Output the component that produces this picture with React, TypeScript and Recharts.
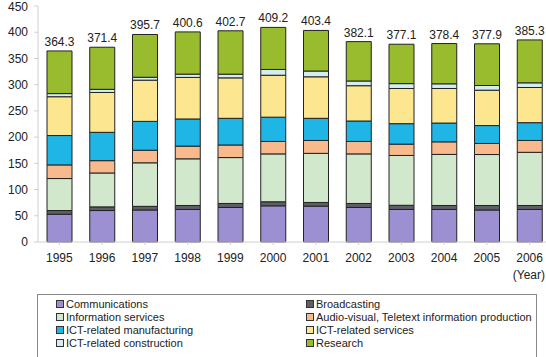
import React from 'react';
import { BarChart, Bar, XAxis, YAxis, LabelList } from 'recharts';

const years = ['1995', '1996', '1997', '1998', '1999', '2000', '2001', '2002', '2003', '2004', '2005', '2006'];
const communications = [53, 60, 61, 62, 65.8, 69, 68.4, 65.8, 62, 62, 61, 62];
const broadcasting = [7, 7, 7, 7.6, 7.7, 7.7, 7, 7.7, 8, 7.6, 8.6, 7.6];
const informationServices = [61, 64.6, 83, 89, 87.5, 91.3, 93.6, 94.5, 95, 97.4, 97.2, 101.4];
const audioVisual = [26, 23.5, 24, 24.2, 24, 23.7, 24.6, 23.7, 21.6, 24, 21.1, 22.6];
const ictManufacturing = [56, 54, 55, 51.8, 50.8, 46.3, 42.2, 39, 39, 35.8, 34.1, 33.9];
const ictServices = [74, 76, 78.6, 79.2, 77.2, 80, 79.2, 67.3, 67.1, 65.9, 67.5, 67.1];
const ictConstruction = [6, 6, 5.5, 6.3, 7, 11, 11, 9, 9.3, 8.9, 8.9, 8.9];
const research = [81.3, 80.3, 81.6, 80.5, 82.7, 80.2, 77.4, 75.1, 75.1, 76.8, 79.5, 81.8];
const totals = ['364.3', '371.4', '395.7', '400.6', '402.7', '409.2', '403.4', '382.1', '377.1', '378.4', '377.9', '385.3'];
const yTicks = [0, 50, 100, 150, 200, 250, 300, 350, 400, 450];

const series = [
  { key: 'comm', name: 'Communications', color: '#9d90d2' },
  { key: 'broad', name: 'Broadcasting', color: '#5e5e66' },
  { key: 'info', name: 'Information services', color: '#d2e8cd' },
  { key: 'av', name: 'Audio-visual, Teletext information production', color: '#f8b98c' },
  { key: 'manuf', name: 'ICT-related manufacturing', color: '#1fb6e6' },
  { key: 'serv', name: 'ICT-related services', color: '#fde690' },
  { key: 'constr', name: 'ICT-related construction', color: '#d3edf2' },
  { key: 'research', name: 'Research', color: '#99bb2e' },
];

const data = years.map((year, i) => ({
  year,
  comm: communications[i],
  broad: broadcasting[i],
  info: informationServices[i],
  av: audioVisual[i],
  manuf: ictManufacturing[i],
  serv: ictServices[i],
  constr: ictConstruction[i],
  research: research[i],
  total: totals[i],
}));

// legend order as in the box: left column then right column, row by row
const legendLeft = ['comm', 'info', 'manuf', 'constr'];
const legendRight = ['broad', 'av', 'serv', 'research'];

const font = '"Liberation Sans", Arial, sans-serif';

function LegendItem({ k }: { k: string }) {
  const s = series.find((x) => x.key === k)!;
  return (
    <div style={{ height: 13, display: 'flex', alignItems: 'center', whiteSpace: 'nowrap' }}>
      <span
        style={{
          display: 'inline-block',
          width: 6,
          height: 6,
          background: s.color,
          border: '1px solid #333',
          marginRight: 2,
        }}
      />
      <span>{s.name}</span>
    </div>
  );
}

export default function App() {
  return (
    <div
      style={{
        position: 'absolute',
        left: 0,
        top: 0,
        width: 546,
        height: 357,
        overflow: 'hidden',
        background: '#fff',
        fontFamily: font,
      }}
    >
      <BarChart
        width={551}
        height={272}
        data={data}
        margin={{ top: 6, right: 0, left: 0, bottom: 0 }}
        barSize={25}
        style={{ fontFamily: font }}
      >
        <XAxis
          dataKey="year"
          height={30}
          axisLine={{ stroke: '#d0d0d0' }}
          tickLine={{ stroke: '#d0d0d0' }}
          tickSize={3}
          tickMargin={8}
          tick={{ fill: '#222', fontSize: 12, fontFamily: font }}
          interval={0}
        />
        <YAxis
          width={38}
          domain={[0, 450]}
          ticks={yTicks}
          axisLine={{ stroke: '#d0d0d0' }}
          tickLine={{ stroke: '#d0d0d0' }}
          tickSize={4}
          tickMargin={6}
          tick={{ fill: '#222', fontSize: 12, fontFamily: font }}
        />
        {series.map((s) => (
          <Bar
            key={s.key}
            dataKey={s.key}
            name={s.name}
            stackId="a"
            fill={s.color}
            stroke="#222"
            strokeWidth={1}
            isAnimationActive={false}
          >
            {s.key === 'research' && (
              <LabelList
                dataKey="total"
                position="top"
                offset={5}
                style={{ fill: '#222', fontSize: 12, fontFamily: font }}
              />
            )}
          </Bar>
        ))}
      </BarChart>
      <div
        style={{
          position: 'absolute',
          right: 1,
          top: 268,
          fontSize: 12,
          color: '#222',
        }}
      >
        (Year)
      </div>
      <div
        style={{
          position: 'absolute',
          left: 37,
          top: 294,
          width: 500,
          height: 80,
          border: '1px solid #8a8a8a',
          boxSizing: 'border-box',
          fontSize: 11,
          color: '#222',
        }}
      >
        <div style={{ position: 'absolute', left: 18, top: 2 }}>
          {legendLeft.map((k) => (
            <LegendItem key={k} k={k} />
          ))}
        </div>
        <div style={{ position: 'absolute', left: 268, top: 2 }}>
          {legendRight.map((k) => (
            <LegendItem key={k} k={k} />
          ))}
        </div>
      </div>
    </div>
  );
}
